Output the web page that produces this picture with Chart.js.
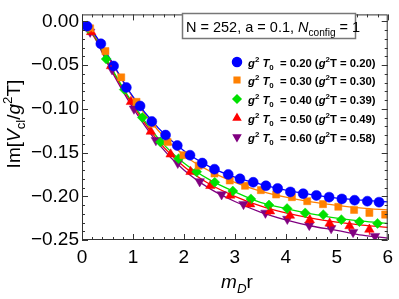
<!DOCTYPE html>
<html><head><meta charset="utf-8">
<script src="https://cdn.jsdelivr.net/npm/chart.js@4.4.1/dist/chart.umd.min.js"></script>
<style>html,body{margin:0;padding:0;background:#fff;overflow:hidden}#wrap{position:relative;width:399px;height:299px}</style>
</head><body><div id="wrap"><canvas id="c" width="399" height="299"></canvas></div>
<script>
// ---- data ----
const blueX = [0.1,0.37,0.62,0.87,1.14,1.37,1.64,1.87,2.12,2.36,2.6,2.87,3.1,3.36,3.61,3.84,4.09,4.34,4.6,4.85,5.1,5.35,5.6,5.83];
const blueY = [-0.0056,-0.0256,-0.051,-0.0756,-0.0967,-0.1144,-0.130,-0.142,-0.153,-0.162,-0.169,-0.175,-0.180,-0.184,-0.188,-0.191,-0.195,-0.197,-0.199,-0.201,-0.203,-0.2045,-0.2056,-0.2067];
const orangeX = [0.16,0.46,0.77,1.07,1.38,1.68,1.99,2.29,2.6,2.9,3.2,3.51,3.81,4.12,4.42,4.73,5.03,5.34,5.64,5.95];
const orangeY = [-0.008,-0.034,-0.064,-0.092,-0.117,-0.138,-0.153,-0.165,-0.174,-0.182,-0.188,-0.193,-0.198,-0.201,-0.2056,-0.209,-0.212,-0.2156,-0.219,-0.221];
const greenX = [0.12,0.475,0.83,1.185,1.54,1.895,2.25,2.605,2.96,3.315,3.67,4.025,4.38,4.735,5.09,5.445,5.8];
const greenY = [-0.008,-0.043,-0.078,-0.110,-0.138,-0.157,-0.172,-0.184,-0.194,-0.203,-0.210,-0.214,-0.219,-0.221,-0.2267,-0.229,-0.231];
const redX = [0.18,0.57,0.96,1.35,1.74,2.13,2.52,2.91,3.30,3.69,4.08,4.47,4.86,5.25,5.64];
const redY = [-0.012,-0.051,-0.092,-0.126,-0.152,-0.172,-0.188,-0.199,-0.209,-0.217,-0.222,-0.227,-0.231,-0.234,-0.238];
const redErr = [0.001,0.001,0.001,0.002,0.002,0.003,0.003,0.004,0.004,0.005,0.005,0.005,0.006,0.006,0.006];
const purpleX = [0.16,0.59,1.02,1.45,1.88,2.31,2.74,3.17,3.60,4.03,4.46,4.89,5.32,5.75];
const purpleY = [-0.012,-0.055,-0.100,-0.136,-0.162,-0.183,-0.198,-0.209,-0.219,-0.226,-0.233,-0.2367,-0.241,-0.2456];

const lineX = [0,0.25,0.5,1,1.5,2,2.5,3,3.5,4,4.5,5,5.5,6];
const blueLine   = [0,-0.015,-0.038,-0.086,-0.122,-0.148,-0.166,-0.178,-0.186,-0.193,-0.198,-0.202,-0.2045,-0.2065];
const orangeLine = [0,-0.016,-0.039,-0.087,-0.125,-0.153,-0.171,-0.184,-0.194,-0.201,-0.2065,-0.2105,-0.2135,-0.2156];
const greenLine  = [0,-0.017,-0.045,-0.094,-0.134,-0.162,-0.181,-0.195,-0.207,-0.214,-0.220,-0.225,-0.2285,-0.231];
const redLine    = [0,-0.018,-0.046,-0.096,-0.137,-0.166,-0.186,-0.200,-0.211,-0.219,-0.225,-0.2295,-0.233,-0.2356];
const purpleLine = [0,-0.019,-0.048,-0.099,-0.140,-0.170,-0.191,-0.206,-0.218,-0.227,-0.234,-0.239,-0.2445,-0.2478];

const xTicks = [0,1,2,3,4,5,6];
const yTicks = [0,-0.05,-0.10,-0.15,-0.20,-0.25];
const legendT0 = ["0.20","0.30","0.40","0.50","0.60"];
const legendT  = ["0.20","0.30","0.39","0.49","0.58"];
const infoText = "N = 252, a = 0.1, ";

// ---- styles ----
const FONT = "'Liberation Sans', Arial, sans-serif";
const colors = ['#0000ff','#ff8000','#00e000','#ff0000','#800080'];
const styles = [
  {pointStyle:'circle', radius:5, rotation:0},
  {pointStyle:'rect', radius:5, rotation:0},
  {pointStyle:'rectRot', radius:5, rotation:0},
  {pointStyle:'triangle', radius:5.5, rotation:0},
  {pointStyle:'triangle', radius:5.5, rotation:180}
];
const zip = (xs, ys) => xs.map((x,i)=>({x:x, y:ys[i]}));
const ptsX = [blueX, orangeX, greenX, redX, purpleX];
const ptsY = [blueY, orangeY, greenY, redY, purpleY];
const lines = [blueLine, orangeLine, greenLine, redLine, purpleLine];

const datasets = [];
for (let i=0;i<5;i++){
  datasets.push({
    data: zip(ptsX[i], ptsY[i]), showLine:false,
    pointStyle: styles[i].pointStyle, pointRadius: styles[i].radius, pointRotation: styles[i].rotation,
    backgroundColor: colors[i], borderColor: colors[i], pointBorderWidth: 0.5, order: 0
  });
}
for (let i=0;i<5;i++){
  datasets.push({
    data: zip(lineX, lines[i]), showLine:true, pointRadius:0,
    borderColor: colors[i], borderWidth:1.3, cubicInterpolationMode:'monotone', fill:false, order: 1
  });
}

function drawRich(ctx, x, y, segs, base, bold, align){
  const parts = segs.map(s=>{
    const size = (s.sub||s.sup) ? base*0.7 : base;
    const font = (s.i?'italic ':'') + (bold?'bold ':'') + size + 'px ' + FONT;
    ctx.font = font;
    return {t:s.t, font:font, w:ctx.measureText(s.t).width, dy: s.sub? base*0.28 : (s.sup? -base*0.4 : 0)};
  });
  const total = parts.reduce((a,p)=>a+p.w,0);
  let cx = align==='center' ? x - total/2 : x;
  ctx.textBaseline='alphabetic'; ctx.textAlign='left';
  parts.forEach(p=>{ ctx.font=p.font; ctx.fillText(p.t, cx, y+p.dy); cx+=p.w; });
  return total;
}

const decor = {
  id:'decor',
  afterDatasetsDraw(chart){
    const ctx = chart.ctx, xs = chart.scales.x, ys = chart.scales.y;
    ctx.save(); ctx.strokeStyle = colors[3]; ctx.lineWidth = 1;
    for (let i=0;i<redX.length;i++){
      const px = xs.getPixelForValue(redX[i]);
      ctx.beginPath();
      ctx.moveTo(px, ys.getPixelForValue(redY[i]+redErr[i]));
      ctx.lineTo(px, ys.getPixelForValue(redY[i]-redErr[i]));
      ctx.stroke();
    }
    ctx.restore();
  },
  afterDraw(chart){
    const ctx = chart.ctx, a = chart.chartArea, xs = chart.scales.x, ys = chart.scales.y;
    ctx.save();
    ctx.strokeStyle = '#333'; ctx.lineWidth = 1;
    ctx.strokeRect(a.left+0.5, a.top+0.5, a.right-a.left-1, a.bottom-a.top-1);
    ctx.beginPath();
    for (let k=0;k<=30;k++){
      const v = k*0.2; const px = Math.round(xs.getPixelForValue(v))+0.5;
      const L = (k%5===0)?6:3;
      ctx.moveTo(px, a.bottom); ctx.lineTo(px, a.bottom-L);
      ctx.moveTo(px, a.top); ctx.lineTo(px, a.top+L);
    }
    for (let k=0;k<=25;k++){
      const v = -k*0.01; const py = Math.round(ys.getPixelForValue(v))+0.5;
      const L = (k%5===0)?6:3;
      ctx.moveTo(a.left, py); ctx.lineTo(a.left+L, py);
      ctx.moveTo(a.right, py); ctx.lineTo(a.right-L, py);
    }
    ctx.stroke();
    ctx.fillStyle = '#000';
    drawRich(ctx, 237, 288, [{t:'m',i:true},{t:'D',i:true,sub:true},{t:'r'}], 19, false, 'center');
    ctx.save(); ctx.translate(20, 124); ctx.rotate(-Math.PI/2);
    drawRich(ctx, 0, 0, [{t:'Im['},{t:'V',i:true},{t:'cl',sub:true},{t:'/'},{t:'g',i:true},{t:'2',sup:true},{t:'T]'}], 19, false, 'center');
    ctx.restore();
    ctx.fillStyle='#fff'; ctx.fillRect(182,13,174,26);
    ctx.strokeStyle='#777'; ctx.lineWidth=1.5; ctx.strokeRect(182.5,13.5,173,25);
    ctx.fillStyle='#000';
    drawRich(ctx, 186, 32, [{t:infoText},{t:'N',i:true},{t:'config',sub:true},{t:' = 1'}], 14.5, false, 'left');
    const rows = [62,80,99,118,137];
    for (let i=0;i<5;i++){
      ctx.fillStyle = colors[i]; ctx.strokeStyle = colors[i];
      Chart.helpers.drawPoint(ctx, {pointStyle:styles[i].pointStyle, radius: i===0?4.5:4, rotation:styles[i].rotation, borderWidth:0.5}, 237, rows[i]);
      ctx.fillStyle = '#000';
      drawRich(ctx, 248, rows[i]+4.5, [{t:'g',i:true},{t:'2',sup:true},{t:' '},{t:'T',i:true},{t:'0',sub:true},{t:'  = '+legendT0[i]+' ('},{t:'g',i:true},{t:'2',sup:true},{t:'T = '+legendT[i]+')'}], 11.3, true, 'left');
    }
    ctx.restore();
  }
};

new Chart(document.getElementById('c'), {
  type:'scatter',
  data:{datasets},
  plugins:[decor],
  options:{
    responsive:false, animation:false, devicePixelRatio:1,
    layout:{padding:{left:0,right:6,top:7,bottom:0}},
    plugins:{legend:{display:false}, tooltip:{enabled:false}},
    scales:{
      x:{type:'linear', min:0, max:6,
         afterBuildTicks: s => { s.ticks = xTicks.map(v=>({value:v})); },
         afterFit: s => { s.height = 59; },
         grid:{display:false, drawTicks:false}, border:{display:false},
         ticks:{font:{family:FONT, size:19}, color:'#000', padding:6, maxRotation:0,
                callback: v => String(v)}},
      y:{type:'linear', min:-0.25, max:0.008,
         afterBuildTicks: s => { s.ticks = yTicks.map(v=>({value:v})); },
         afterFit: s => { s.width = 82; },
         grid:{display:false, drawTicks:false}, border:{display:false},
         ticks:{font:{family:FONT, size:19}, color:'#000', padding:3,
                callback: v => (v<0?'\u2212':'') + Math.abs(v).toFixed(2)}}
    }
  }
});
</script></body></html>
